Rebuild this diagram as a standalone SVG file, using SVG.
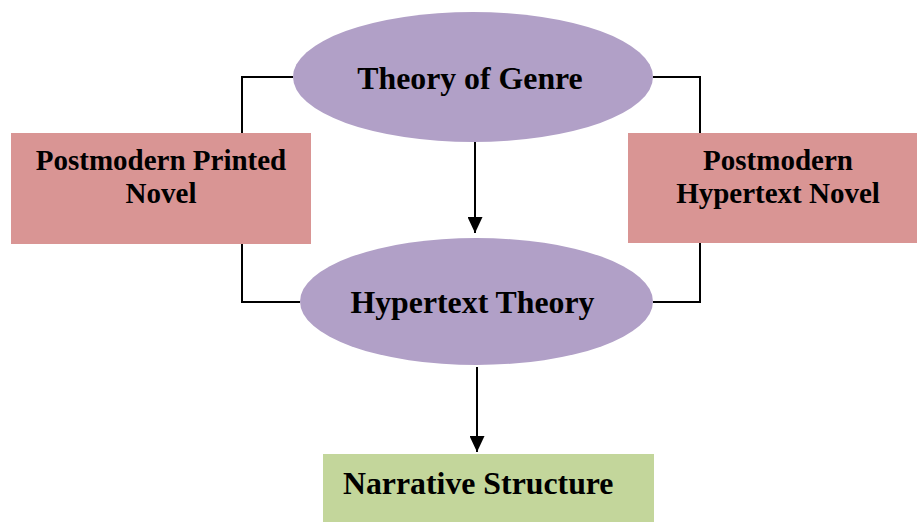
<svg xmlns="http://www.w3.org/2000/svg" width="917" height="522" viewBox="0 0 917 522">
<defs>
<style>
.ell{fill:#B1A0C7;stroke:none}
.box{fill:#D99594;stroke:none}
.green{fill:#C3D69B;stroke:none}
.conn{fill:none;stroke:#000;stroke-width:2}
.t{font-family:"Liberation Serif","Times New Roman",serif;font-weight:bold;fill:#000}
.big{font-size:31.8px}
.small{font-size:29px}
</style>
<marker id="arr" viewBox="0 0 16 15" refX="16" refY="7.5" markerWidth="16" markerHeight="15" markerUnits="userSpaceOnUse" orient="auto">
<path d="M0,0 L16,7.5 L0,15 Z" fill="#000"/>
</marker>
</defs>
<rect width="917" height="522" fill="#fff"/>
<g id="connectors">
<polyline class="conn" points="293,77 242,77 242,302 300,302"/>
<polyline class="conn" points="653,77 700,77 700,302 653,302"/>
<line class="conn" x1="475" y1="142" x2="475" y2="233" marker-end="url(#arr)"/>
<line class="conn" x1="477" y1="367" x2="477" y2="452" marker-end="url(#arr)"/>
</g>
<g id="theory-of-genre">
<ellipse class="ell" cx="473" cy="77" rx="180" ry="65"/>
<text class="t big" x="470" y="89" text-anchor="middle">Theory of Genre</text>
</g>
<g id="postmodern-printed-novel">
<rect class="box" x="11" y="133" width="300" height="111"/>
<text class="t small" x="161" y="170" text-anchor="middle">Postmodern Printed</text>
<text class="t small" x="161" y="203" text-anchor="middle">Novel</text>
</g>
<g id="postmodern-hypertext-novel">
<rect class="box" x="628" y="133" width="289" height="110"/>
<text class="t small" x="778" y="170" text-anchor="middle">Postmodern</text>
<text class="t small" x="778" y="203" text-anchor="middle">Hypertext Novel</text>
</g>
<g id="hypertext-theory">
<ellipse class="ell" cx="476.5" cy="301.5" rx="176.5" ry="63.5"/>
<text class="t big" x="472.5" y="313" text-anchor="middle">Hypertext Theory</text>
</g>
<g id="narrative-structure">
<rect class="green" x="323" y="454" width="331" height="68"/>
<text class="t big" x="343" y="494">Narrative Structure</text>
</g>
</svg>
